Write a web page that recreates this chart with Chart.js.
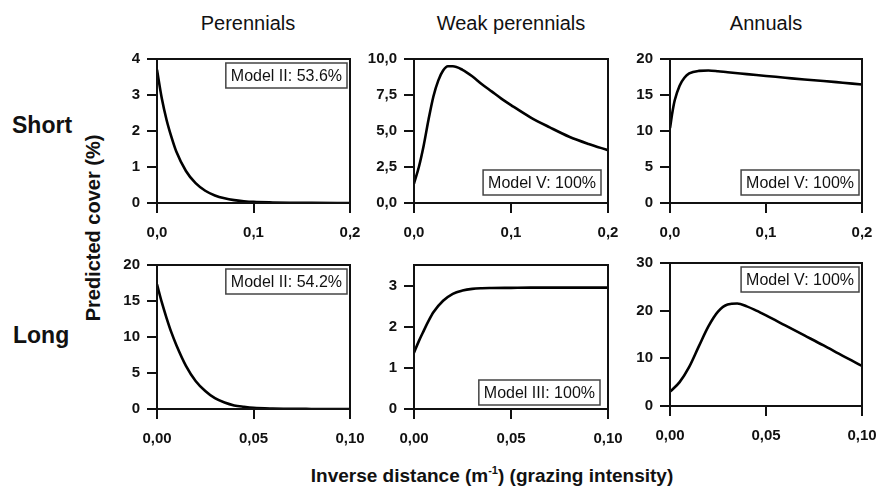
<!DOCTYPE html>
<html>
<head>
<meta charset="utf-8">
<script src="https://cdn.jsdelivr.net/npm/chart.js@4"></script>
<style>
  body { margin: 0; background: #fff; width: 877px; height: 496px; position: relative; overflow: hidden; font-family: "Liberation Sans", Arial, sans-serif; color: #111; }
  canvas { position: absolute; }
  .txt { position: absolute; white-space: nowrap; line-height: 1; }
  .title { font-size: 20px; transform: translateX(-50%); }
  .row { font-size: 23px; font-weight: bold; }
  .axis { font-weight: bold; }
  sup { font-size: 11px; vertical-align: 8px; }
</style>
</head>
<body>

<div class="txt title" style="left:248px; top:13px;">Perennials</div>
<div class="txt title" style="left:511px; top:13px;">Weak perennials</div>
<div class="txt title" style="left:766px; top:13px;">Annuals</div>
<div class="txt row" style="left:12px; top:114px;">Short</div>
<div class="txt row" style="left:13px; top:324px;">Long</div>
<div class="txt axis" style="font-size:20px; left:93px; top:228px; transform: translate(-50%,-50%) rotate(-90deg);">Predicted cover (%)</div>
<div class="txt axis" style="font-size:19px; left:492px; top:475px; transform: translate(-50%,-50%);">Inverse distance (m<sup>-1</sup>) (grazing intensity)</div>

<script>
// Predicted cover curves
const perShortX = [0, 0.005, 0.01, 0.015, 0.02, 0.03, 0.04, 0.05, 0.06, 0.07, 0.08, 0.09, 0.1, 0.12, 0.14, 0.16, 0.2];
const perShortY = [3.7, 2.9, 2.3, 1.83, 1.43, 0.89, 0.55, 0.34, 0.21, 0.13, 0.08, 0.05, 0.03, 0.015, 0.008, 0.004, 0];

const weakShortX = [0, 0.005, 0.01, 0.015, 0.02, 0.025, 0.03, 0.035, 0.04, 0.05, 0.06, 0.07, 0.08, 0.09, 0.1, 0.12, 0.14, 0.16, 0.18, 0.2];
const weakShortY = [1.35, 2.5, 4.0, 5.8, 7.4, 8.5, 9.2, 9.5, 9.5, 9.25, 8.8, 8.25, 7.75, 7.25, 6.8, 5.95, 5.25, 4.6, 4.1, 3.67];

const annShortX = [0, 0.0025, 0.005, 0.01, 0.015, 0.02, 0.03, 0.04, 0.05, 0.06, 0.08, 0.1, 0.12, 0.14, 0.16, 0.18, 0.2];
const annShortY = [10.4, 12.6, 14.3, 16.3, 17.4, 18.0, 18.35, 18.4, 18.3, 18.15, 17.9, 17.65, 17.4, 17.15, 16.95, 16.7, 16.45];

const perLongX = [0, 0.0025, 0.005, 0.0075, 0.01, 0.015, 0.02, 0.025, 0.03, 0.035, 0.04, 0.045, 0.05, 0.06, 0.07, 0.08, 0.1];
const perLongY = [17.3, 14.8, 12.6, 10.6, 8.9, 6.0, 3.9, 2.5, 1.5, 0.9, 0.5, 0.3, 0.15, 0.05, 0.02, 0.01, 0];

const weakLongX = [0, 0.0025, 0.005, 0.0075, 0.01, 0.015, 0.02, 0.025, 0.03, 0.035, 0.04, 0.05, 0.06, 0.08, 0.1];
const weakLongY = [1.37, 1.65, 1.9, 2.14, 2.35, 2.63, 2.8, 2.88, 2.92, 2.935, 2.94, 2.945, 2.95, 2.95, 2.95];

const annLongX = [0, 0.005, 0.01, 0.015, 0.02, 0.025, 0.03, 0.035, 0.04, 0.045, 0.05, 0.06, 0.07, 0.08, 0.09, 0.1];
const annLongY = [3.0, 5.0, 8.2, 12.5, 16.7, 19.8, 21.3, 21.5, 20.9, 20.0, 19.0, 16.9, 14.8, 12.7, 10.5, 8.4];

// tick values and labels
const xTicksShort = [0, 0.1, 0.2];
const xLabelsShort = ['0,0', '0,1', '0,2'];
const xTicksLong = [0, 0.05, 0.1];
const xLabelsLong = ['0,00', '0,05', '0,10'];

const yTicksPerShort = [0, 1, 2, 3, 4];
const yLabelsPerShort = ['0', '1', '2', '3', '4'];
const yTicksWeakShort = [0, 2.5, 5, 7.5, 10];
const yLabelsWeakShort = ['0,0', '2,5', '5,0', '7,5', '10,0'];
const yTicksAnnShort = [0, 5, 10, 15, 20];
const yLabelsAnnShort = ['0', '5', '10', '15', '20'];
const yTicksPerLong = [0, 5, 10, 15, 20];
const yLabelsPerLong = ['0', '5', '10', '15', '20'];
const yTicksWeakLong = [0, 1, 2, 3];
const yLabelsWeakLong = ['0', '1', '2', '3'];
const yTicksAnnLong = [0, 10, 20, 30];
const yLabelsAnnLong = ['0', '10', '20', '30'];

const modelLabels = ['Model II: 53.6%', 'Model V: 100%', 'Model V: 100%', 'Model II: 54.2%', 'Model III: 100%', 'Model V: 100%'];

// panel layout (plot area in page pixels)
const panels = [
  { x: perShortX, y: perShortY, xt: xTicksShort, xl: xLabelsShort, xmax: 0.2, yt: yTicksPerShort, yl: yLabelsPerShort, ymax: 4, box: [157, 59, 193, 144], tag: 'tr', inset: [3, 4] },
  { x: weakShortX, y: weakShortY, xt: xTicksShort, xl: xLabelsShort, xmax: 0.2, yt: yTicksWeakShort, yl: yLabelsWeakShort, ymax: 10, box: [414, 59, 194, 144], tag: 'br', inset: [7, 8] },
  { x: annShortX, y: annShortY, xt: xTicksShort, xl: xLabelsShort, xmax: 0.2, yt: yTicksAnnShort, yl: yLabelsAnnShort, ymax: 20, box: [670, 59, 192, 144], tag: 'br', inset: [3, 8] },
  { x: perLongX, y: perLongY, xt: xTicksLong, xl: xLabelsLong, xmax: 0.1, yt: yTicksPerLong, yl: yLabelsPerLong, ymax: 20, box: [157, 265, 193, 144], tag: 'tr', inset: [3, 4] },
  { x: weakLongX, y: weakLongY, xt: xTicksLong, xl: xLabelsLong, xmax: 0.1, yt: yTicksWeakLong, yl: yLabelsWeakLong, ymax: 3.5, box: [414, 265, 194, 144], tag: 'br', inset: [8, 4] },
  { x: annLongX, y: annLongY, xt: xTicksLong, xl: xLabelsLong, xmax: 0.1, yt: yTicksAnnLong, yl: yLabelsAnnLong, ymax: 30, box: [670, 263, 192, 143], tag: 'tr', inset: [3, 4] }
];

// generous outer padding so tick labels never push the plot area around
const AXW = 64, AXH = 45, PADT = 30, PADR = 36;
const tickFont = { family: '"Liberation Sans", Arial, sans-serif', size: 15, weight: 'bold' };

// full box round the plot area + model label
const frameAndLabel = {
  id: 'frameAndLabel',
  afterDraw(chart, args, opts) {
    const { ctx, chartArea: a } = chart;
    ctx.save();
    ctx.strokeStyle = '#111';
    ctx.lineWidth = 2;
    ctx.strokeRect(a.left, a.top, a.right - a.left, a.bottom - a.top);

    ctx.font = '16px "Liberation Sans", Arial, sans-serif';
    const w = ctx.measureText(opts.text).width + 10;
    const h = 25;
    const bx = a.right - opts.inset[0] - w;
    const by = opts.corner === 'tr' ? a.top + opts.inset[1] : a.bottom - opts.inset[1] - h;
    ctx.fillStyle = '#fff';
    ctx.fillRect(bx, by, w, h);
    ctx.strokeStyle = '#444';
    ctx.lineWidth = 1.5;
    ctx.strokeRect(bx, by, w, h);
    ctx.fillStyle = '#111';
    ctx.textBaseline = 'middle';
    ctx.fillText(opts.text, bx + 5, by + h / 2 + 1);
    ctx.restore();
  }
};

panels.forEach((p, i) => {
  const [left, top, w, h] = p.box;
  const cv = document.createElement('canvas');
  const cw = w + AXW + PADR, ch = h + AXH + PADT;
  cv.width = cw; cv.height = ch;
  cv.style.left = (left - AXW) + 'px';
  cv.style.top = (top - PADT) + 'px';
  cv.style.width = cw + 'px';
  cv.style.height = ch + 'px';
  document.body.appendChild(cv);

  new Chart(cv, {
    type: 'line',
    data: {
      datasets: [{
        data: p.x.map((v, k) => ({ x: v, y: p.y[k] })),
        borderColor: '#000',
        borderWidth: 2.6,
        pointRadius: 0,
        cubicInterpolationMode: 'monotone',
        fill: false
      }]
    },
    options: {
      responsive: false,
      animation: false,
      layout: { padding: { top: PADT, right: PADR, left: 0, bottom: 0 } },
      plugins: {
        legend: { display: false },
        tooltip: { enabled: false },
        frameAndLabel: { text: modelLabels[i], corner: p.tag, inset: p.inset }
      },
      scales: {
        x: {
          type: 'linear', min: 0, max: p.xmax,
          afterBuildTicks: s => { s.ticks = p.xt.map(v => ({ value: v })); },
          afterFit: s => { s.height = AXH; },
          ticks: { callback: (v, k) => p.xl[k], color: '#111', font: tickFont, padding: 11, maxRotation: 0, autoSkip: false },
          grid: { drawOnChartArea: false, drawTicks: true, tickLength: 10, color: '#111', lineWidth: 2 },
          border: { display: false }
        },
        y: {
          type: 'linear', min: 0, max: p.ymax,
          afterBuildTicks: s => { s.ticks = p.yt.map(v => ({ value: v })); },
          afterFit: s => { s.width = AXW; },
          ticks: { callback: (v, k) => p.yl[k], color: '#111', font: tickFont, padding: 7, autoSkip: false },
          grid: { drawOnChartArea: false, drawTicks: true, tickLength: 10, color: '#111', lineWidth: 2 },
          border: { display: false }
        }
      }
    },
    plugins: [frameAndLabel]
  });
});
</script>
</body>
</html>
